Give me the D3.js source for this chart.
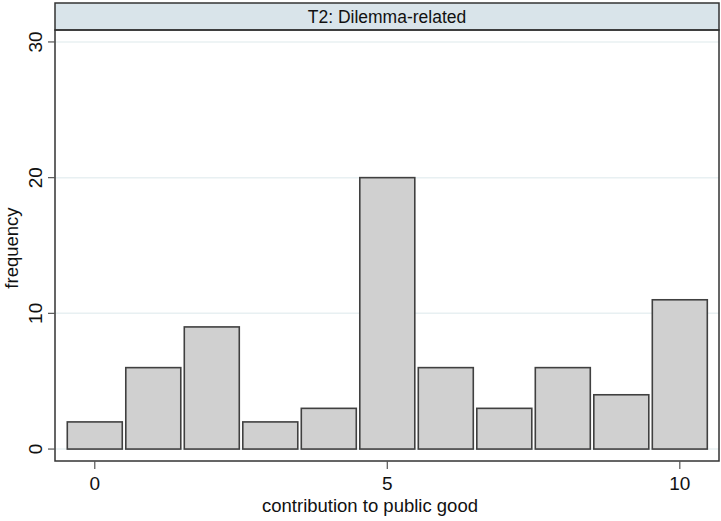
<!DOCTYPE html>
<meta charset="utf-8">
<style>
body { margin: 0; background: #fff; }
text { font-family: Arial, "Liberation Sans", sans-serif; fill: #111; }
</style>
<body>
<div id="chart"></div>
<script src="https://d3js.org/d3.v7.min.js"></script>
<script>

var contribution = [0, 1, 2, 3, 4, 5, 6, 7, 8, 9, 10];
var frequency = [2, 6, 9, 2, 3, 20, 6, 3, 6, 4, 11];
var xTicks = [0, 5, 10];
var yTicks = [0, 10, 20, 30];

var width = 721, height = 521;
var plot = {left: 55, right: 719, top: 30, bottom: 461};

var svg = d3.select("#chart").append("svg")
    .attr("width", width)
    .attr("height", height);

var x = d3.scaleLinear().domain([-0.68, 10.67]).range([plot.left, plot.right]);
var y = d3.scaleLinear().domain([-0.88, 30.88]).range([plot.bottom, plot.top]);

// strip title
svg.append("rect")
    .attr("x", plot.left).attr("y", 3)
    .attr("width", plot.right - plot.left).attr("height", plot.top - 3)
    .attr("fill", "#d9e4ea")
    .attr("stroke", "#333").attr("stroke-width", 1.5);
svg.append("text")
    .attr("x", (plot.left + plot.right) / 2).attr("y", 23)
    .attr("text-anchor", "middle")
    .style("font-size", "17.5px")
    .text("T2: Dilemma-related");

// gridlines
svg.selectAll(".grid").data(yTicks).enter().append("line")
    .attr("x1", plot.left).attr("x2", plot.right)
    .attr("y1", d => y(d)).attr("y2", d => y(d))
    .attr("stroke", "#e8f0f2").attr("stroke-width", 1.5);

// bars
var bw = 0.94;
svg.selectAll(".bar").data(frequency).enter().append("rect")
    .attr("x", (d, i) => x(contribution[i] - bw / 2))
    .attr("width", x(bw) - x(0))
    .attr("y", d => y(d))
    .attr("height", d => y(0) - y(d))
    .attr("fill", "#d0d0d0")
    .attr("stroke", "#404040").attr("stroke-width", 1.6);

// frame
svg.append("rect")
    .attr("x", plot.left).attr("y", plot.top)
    .attr("width", plot.right - plot.left).attr("height", plot.bottom - plot.top)
    .attr("fill", "none")
    .attr("stroke", "#333").attr("stroke-width", 1.5);

// y axis
var yAxis = svg.append("g");
yAxis.selectAll("line").data(yTicks).enter().append("line")
    .attr("x1", plot.left - 7).attr("x2", plot.left)
    .attr("y1", d => y(d)).attr("y2", d => y(d))
    .attr("stroke", "#555").attr("stroke-width", 1.2);
yAxis.selectAll("text").data(yTicks).enter().append("text")
    .attr("transform", d => "translate(42," + y(d) + ") rotate(-90)")
    .attr("text-anchor", "middle")
    .style("font-size", "19px")
    .text(d => d);
svg.append("text")
    .attr("transform", "translate(18,248) rotate(-90)")
    .attr("text-anchor", "middle")
    .style("font-size", "18.5px")
    .text("frequency");

// x axis
var xAxis = svg.append("g");
xAxis.selectAll("line").data(xTicks).enter().append("line")
    .attr("x1", d => x(d)).attr("x2", d => x(d))
    .attr("y1", plot.bottom).attr("y2", plot.bottom + 8)
    .attr("stroke", "#555").attr("stroke-width", 1.2);
xAxis.selectAll("text").data(xTicks).enter().append("text")
    .attr("x", d => x(d)).attr("y", 490)
    .attr("text-anchor", "middle")
    .style("font-size", "19px")
    .text(d => d);
svg.append("text")
    .attr("x", 370).attr("y", 512)
    .attr("text-anchor", "middle")
    .style("font-size", "18.5px")
    .text("contribution to public good");

</script>
